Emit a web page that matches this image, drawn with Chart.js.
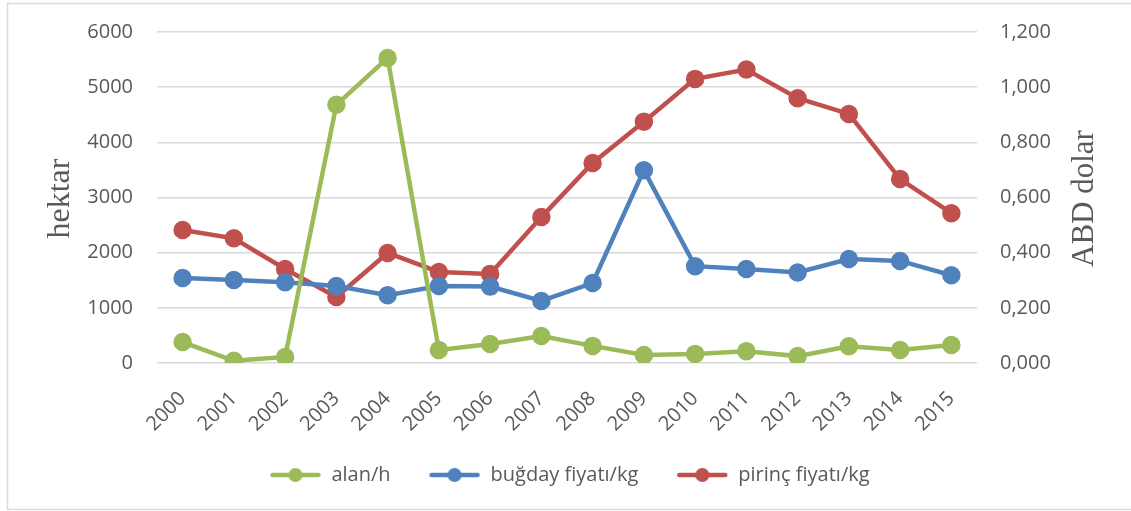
<!doctype html>
<html lang="tr">
<head>
<meta charset="UTF-8" />
<title>alan ve fiyatlar</title>
<script src="https://cdn.jsdelivr.net/npm/chart.js"></script>
<style>
  html, body { margin: 0; padding: 0; background: #fff; }
  #wrap { width: 1131px; height: 511px; position: relative; }
</style>
</head>
<body>
<div id="wrap"><canvas id="chart"></canvas></div>
<script>
  // data
  const years = ["2000", "2001", "2002", "2003", "2004", "2005", "2006", "2007",
                 "2008", "2009", "2010", "2011", "2012", "2013", "2014", "2015"];
  const alan = [380, 40, 110, 4680, 5530, 235, 345, 490, 310, 145, 165, 215, 125, 305, 235, 325];
  const bugday = [0.308, 0.301, 0.293, 0.279, 0.246, 0.279, 0.277, 0.225,
                  0.290, 0.699, 0.351, 0.341, 0.328, 0.377, 0.370, 0.318];
  const pirinc = [0.482, 0.452, 0.341, 0.239, 0.399, 0.330, 0.323, 0.529,
                  0.725, 0.875, 1.030, 1.064, 0.960, 0.903, 0.667, 0.543];
  const leftTicks = [0, 1000, 2000, 3000, 4000, 5000, 6000];
  const rightTicks = [0, 0.2, 0.4, 0.6, 0.8, 1.0, 1.2];

  const GREEN = "#9BBB59", BLUE = "#4F81BD", RED = "#C0504D";
  const TEXT = "#595959", GRID = "#d9d9d9";
  const FONT = "'Open Sans', 'Noto Sans', sans-serif";
  const tickFont = { family: FONT, size: 20 };

  // legend marker: short line with a dot in the middle (8px blank on the left)
  function legendIcon(color) {
    const c = document.createElement("canvas");
    c.width = 60; c.height = 16;
    const g = c.getContext("2d");
    g.strokeStyle = color; g.lineWidth = 4.5; g.lineCap = "round";
    g.beginPath(); g.moveTo(11, 8); g.lineTo(57, 8); g.stroke();
    g.fillStyle = color;
    g.beginPath(); g.arc(34, 8, 7, 0, Math.PI * 2); g.fill();
    return c;
  }

  function series(label, data, color, axis) {
    return {
      label, data, yAxisID: axis,
      borderColor: color, backgroundColor: color,
      pointBackgroundColor: color, pointBorderColor: color,
      borderWidth: 4.5, pointRadius: 7, pointHoverRadius: 7,
      tension: 0, legendIcon: legendIcon(color)
    };
  }

  function vText(ctx, text, x, y, size) {
    ctx.save();
    ctx.fillStyle = TEXT;
    ctx.font = size + "px 'Liberation Serif', serif";
    ctx.textAlign = "center"; ctx.textBaseline = "middle";
    ctx.translate(x, y); ctx.rotate(-Math.PI / 2);
    ctx.fillText(text, 0, 0);
    ctx.restore();
  }

  // fixed side widths, no extra label overflow padding
  function fixWidth(w) {
    return s => { s.width = w; s.paddingTop = 0; s.paddingBottom = 0; };
  }

  // frame + axis titles drawn by hand (right title reads bottom to top)
  const decor = {
    id: "decor",
    beforeDraw(chart) {
      const ctx = chart.ctx;
      ctx.save();
      ctx.strokeStyle = GRID; ctx.lineWidth = 1.5;
      ctx.beginPath();
      ctx.moveTo(1131, 3.5); ctx.lineTo(7.5, 3.5); ctx.lineTo(7.5, 509.5); ctx.lineTo(1131, 509.5);
      ctx.stroke();
      ctx.restore();
    },
    afterDraw(chart) {
      const a = chart.chartArea;
      const cy = (a.top + a.bottom) / 2 + 1;
      vText(chart.ctx, "hektar", 61, cy, 32);
      vText(chart.ctx, "ABD dolar", 1085, cy, 31);
    }
  };

  new Chart(document.getElementById("chart"), {
    type: "line",
    data: {
      labels: years,
      datasets: [
        series("alan/h", alan, GREEN, "y"),
        series("buğday fiyatı/kg", bugday, BLUE, "y1"),
        series("pirinç fiyatı/kg", pirinc, RED, "y1")
      ]
    },
    options: {
      responsive: true,
      maintainAspectRatio: false,
      animation: false,
      layout: { padding: { left: 8, right: 8, top: 32, bottom: 16 } },
      plugins: {
        tooltip: { enabled: false },
        legend: {
          position: "bottom",
          labels: {
            color: TEXT,
            font: { family: FONT, size: 20 },
            usePointStyle: true,
            pointStyleWidth: 60,
            padding: 30,
            generateLabels(chart) {
              return chart.data.datasets.map((ds, i) => ({
                text: ds.label, fontColor: TEXT, pointStyle: ds.legendIcon,
                hidden: false, datasetIndex: i, lineWidth: 0
              }));
            }
          }
        }
      },
      scales: {
        x: {
          offset: true,
          grid: { display: false },
          border: { display: false },
          ticks: { color: TEXT, font: tickFont, maxRotation: 45, minRotation: 45, padding: 16 },
          afterFit(s) { s.height = 72; s.paddingLeft = 0; s.paddingRight = 0; }
        },
        y: {
          position: "left",
          min: 0, max: 6000,
          afterBuildTicks(s) { s.ticks = leftTicks.map(v => ({ value: v })); },
          grid: { color: GRID, lineWidth: 1.5, drawTicks: false },
          border: { display: false },
          ticks: { color: TEXT, font: tickFont, padding: 24, callback: v => String(v) },
          afterFit: fixWidth(149)
        },
        y1: {
          position: "right",
          min: 0, max: 1.2,
          afterBuildTicks(s) { s.ticks = rightTicks.map(v => ({ value: v })); },
          grid: { display: false, drawTicks: false },
          border: { display: false },
          ticks: {
            color: TEXT, font: tickFont, padding: 23,
            callback: v => v.toFixed(3).replace(".", ",")
          },
          afterFit: fixWidth(146)
        }
      }
    },
    plugins: [decor]
  });
</script>
</body>
</html>
